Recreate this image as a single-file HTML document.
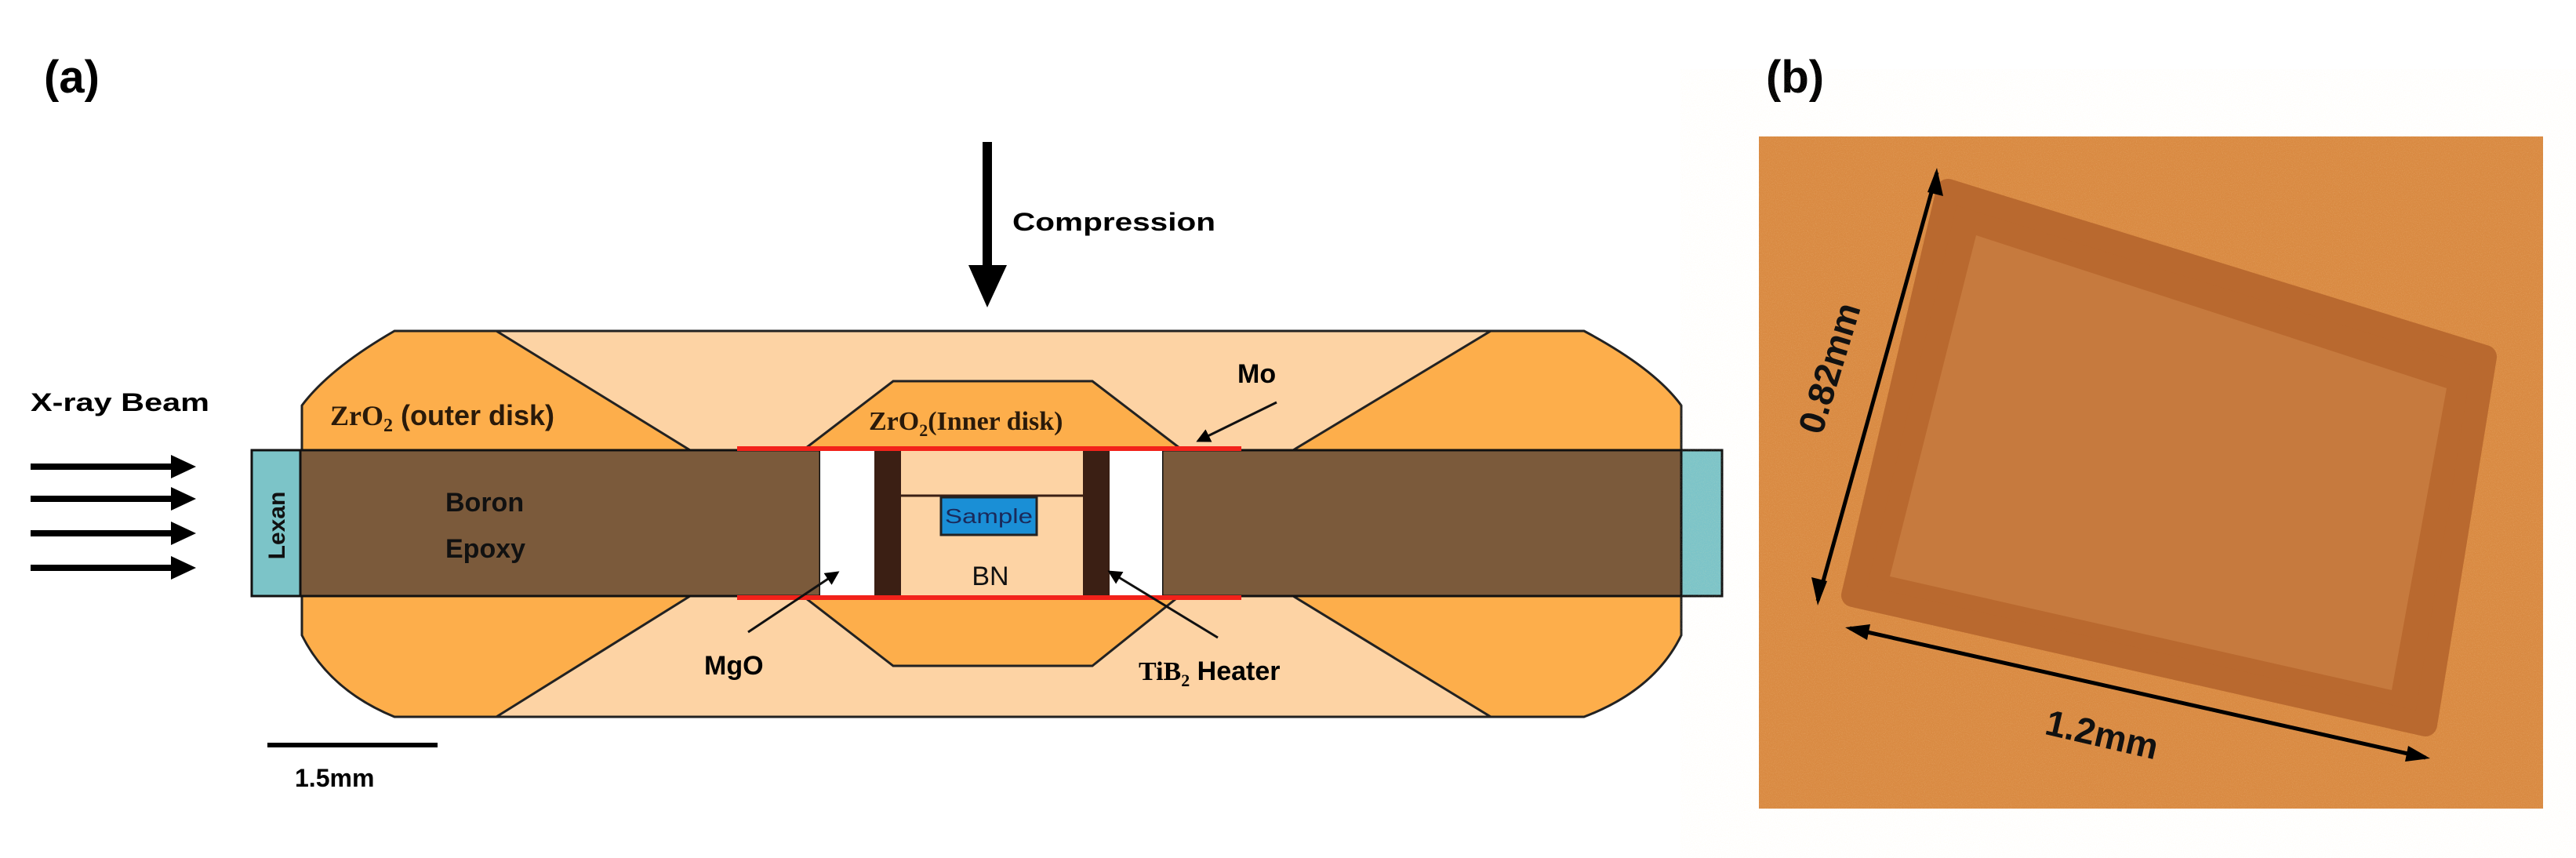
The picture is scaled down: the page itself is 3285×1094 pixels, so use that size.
<!DOCTYPE html>
<html><head><meta charset="utf-8"><style>html,body{margin:0;padding:0;background:#fff}svg{display:block}</style></head><body>
<svg width="3285" height="1094" viewBox="0 0 3285 1094" xmlns="http://www.w3.org/2000/svg" font-family="Liberation Sans, sans-serif">
<defs>
<marker id="ah" markerWidth="6" markerHeight="6" refX="5" refY="3" orient="auto" markerUnits="strokeWidth"><path d="M0,0 L6,3 L0,6 z" fill="#000"/></marker>
<marker id="ahs" markerWidth="8" markerHeight="8" refX="0" refY="4" orient="auto-start-reverse" markerUnits="userSpaceOnUse"><path d="M0,0 L0,0" /></marker>
<filter id="noise"><feTurbulence type="fractalNoise" baseFrequency="0.9" numOctaves="2" seed="3"/><feColorMatrix values="0 0 0 0 1  0 0 0 0 0.8  0 0 0 0 0.5  0 0 0 1.2 -0.55"/></filter>
</defs>
<!-- (a) -->
<text x="56" y="118" font-size="58" font-weight="bold">(a)</text>
<!-- Compression arrow -->
<line x1="1259" y1="181" x2="1259" y2="345" stroke="#000" stroke-width="12"/>
<polygon points="1235,338 1284,338 1259,392" fill="#000"/>
<text x="1291" y="294" font-size="32" font-weight="bold" textLength="259" lengthAdjust="spacingAndGlyphs">Compression</text>
<!-- outer disk -->
<path d="M503,422 L2020,422 Q2110,470 2144,517 L2144,810 Q2110,880 2020,914 L503,914 Q420,880 385,810 L385,517 Q420,470 503,422 Z" fill="#fdae4b" stroke="#222" stroke-width="3"/>
<!-- light inner region -->
<polygon points="633,422 1901,422 1649,574 880,574" fill="#fdd3a4" stroke="#222" stroke-width="3"/>
<polygon points="880,760 1649,760 1901,914 633,914" fill="#fdd3a4" stroke="#222" stroke-width="3"/>
<!-- inner hexagon -->
<polygon points="1139,486 1393,486 1508,574 1024,574" fill="#fdae4b" stroke="#222" stroke-width="3"/>
<polygon points="1024,760 1504,760 1393,849 1139,849" fill="#fdae4b" stroke="#222" stroke-width="3"/>
<!-- lexan -->
<rect x="321" y="574" width="62" height="186" fill="#7cc4c8" stroke="#111" stroke-width="3"/>
<rect x="2144" y="574" width="52" height="186" fill="#7cc4c8" stroke="#111" stroke-width="3"/>
<!-- brown band -->
<rect x="383" y="574" width="663" height="186" fill="#7b5a3b" stroke="#111" stroke-width="3"/>
<rect x="1482" y="574" width="662" height="186" fill="#7b5a3b" stroke="#111" stroke-width="3"/>
<!-- MgO white -->
<rect x="1046" y="574" width="69" height="186" fill="#fff"/>
<rect x="1415" y="574" width="67" height="186" fill="#fff"/>
<!-- heaters -->
<rect x="1115" y="574" width="34" height="186" fill="#3b1f14"/>
<rect x="1381" y="574" width="34" height="186" fill="#3b1f14"/>
<!-- BN -->
<rect x="1149" y="574" width="232" height="186" fill="#fdd3a4"/>
<line x1="1149" y1="632" x2="1381" y2="632" stroke="#3b1f14" stroke-width="3"/>
<rect x="1200" y="634" width="122" height="48" fill="#1a8fd6" stroke="#222" stroke-width="3"/>
<text x="1261" y="667" font-size="26" text-anchor="middle" fill="#1a2a5a" textLength="112" lengthAdjust="spacingAndGlyphs">Sample</text>
<text x="1263" y="746" font-size="34" text-anchor="middle" fill="#111">BN</text>
<!-- Mo red lines -->
<line x1="940" y1="572" x2="1583" y2="572" stroke="#f2221a" stroke-width="6"/>
<line x1="940" y1="762" x2="1583" y2="762" stroke="#f2221a" stroke-width="6"/>
<!-- labels -->
<text x="421" y="542" font-size="36" font-weight="bold" fill="#2a1a0a" font-family="Liberation Serif, serif">ZrO<tspan font-size="24" dy="8">2</tspan><tspan dy="-8" font-family="Liberation Sans, sans-serif"> (outer disk)</tspan></text>
<text x="1108" y="548" font-size="34" font-weight="bold" fill="#2a1a0a" font-family="Liberation Serif, serif">ZrO<tspan font-size="22" dy="8">2</tspan><tspan dy="-8">(Inner disk)</tspan></text>
<text x="1578" y="488" font-size="34" font-weight="bold">Mo</text>
<line x1="1628" y1="513" x2="1528" y2="562" stroke="#111" stroke-width="3" marker-end="url(#ah)"/>
<text x="39" y="524" font-size="32" font-weight="bold" textLength="228" lengthAdjust="spacingAndGlyphs">X-ray Beam</text>
<g stroke="#000" stroke-width="8">
<line x1="39" y1="595" x2="225" y2="595"/><line x1="39" y1="636" x2="225" y2="636"/><line x1="39" y1="680" x2="225" y2="680"/><line x1="39" y1="724" x2="225" y2="724"/>
</g>
<g fill="#000">
<polygon points="218,580 250,595 218,610"/><polygon points="218,621 250,636 218,651"/><polygon points="218,665 250,680 218,695"/><polygon points="218,709 250,724 218,739"/>
</g>
<text transform="translate(363,670) rotate(-90)" font-size="30" font-weight="bold" text-anchor="middle" fill="#111">Lexan</text>
<text x="568" y="652" font-size="34" font-weight="bold" fill="#111">Boron</text>
<text x="568" y="711" font-size="34" font-weight="bold" fill="#111">Epoxy</text>
<text x="898" y="860" font-size="34" font-weight="bold">MgO</text>
<line x1="954" y1="806" x2="1068" y2="730" stroke="#111" stroke-width="3" marker-end="url(#ah)"/>
<text x="1452" y="867" font-size="34" font-weight="bold" font-family="Liberation Serif, serif">TiB<tspan font-size="22" dy="8">2</tspan><tspan dy="-8" font-family="Liberation Sans, sans-serif"> Heater</tspan></text>
<line x1="1553" y1="813" x2="1415" y2="729" stroke="#111" stroke-width="3" marker-end="url(#ah)"/>
<line x1="341" y1="950" x2="558" y2="950" stroke="#000" stroke-width="6"/>
<text x="376" y="1003" font-size="32" font-weight="bold">1.5mm</text>
<!-- (b) -->
<text x="2252" y="118" font-size="58" font-weight="bold">(b)</text>
<rect x="2243" y="174" width="1000" height="857" fill="#d98a42"/>
<rect x="2243" y="174" width="1000" height="857" filter="url(#noise)" opacity="0.35"/>
<polygon points="2484,243 3169,455 3093,924 2363,759" fill="#b9692f" stroke="#b9692f" stroke-width="30" stroke-linejoin="round"/>
<polygon points="2520,300 3120,495 3050,880 2410,735" fill="#c67a3e"/>
<line x1="2470" y1="220" x2="2318" y2="766" stroke="#000" stroke-width="5"/>
<polygon points="2470,214 2478,250 2458,245" fill="#000"/>
<polygon points="2318,772 2310,736 2330,741" fill="#000"/>
<text transform="translate(2348,474) rotate(-73)" font-size="46" font-weight="bold" text-anchor="middle" fill="#111">0.82mm</text>
<line x1="2359" y1="801" x2="3093" y2="966" stroke="#000" stroke-width="5"/>
<polygon points="2353,800 2385,796 2381,816" fill="#000"/>
<polygon points="3099,967 3067,971 3071,951" fill="#000"/>
<text transform="translate(2677,952) rotate(13)" font-size="46" font-weight="bold" text-anchor="middle" fill="#111">1.2mm</text>
</svg>
</body></html>
